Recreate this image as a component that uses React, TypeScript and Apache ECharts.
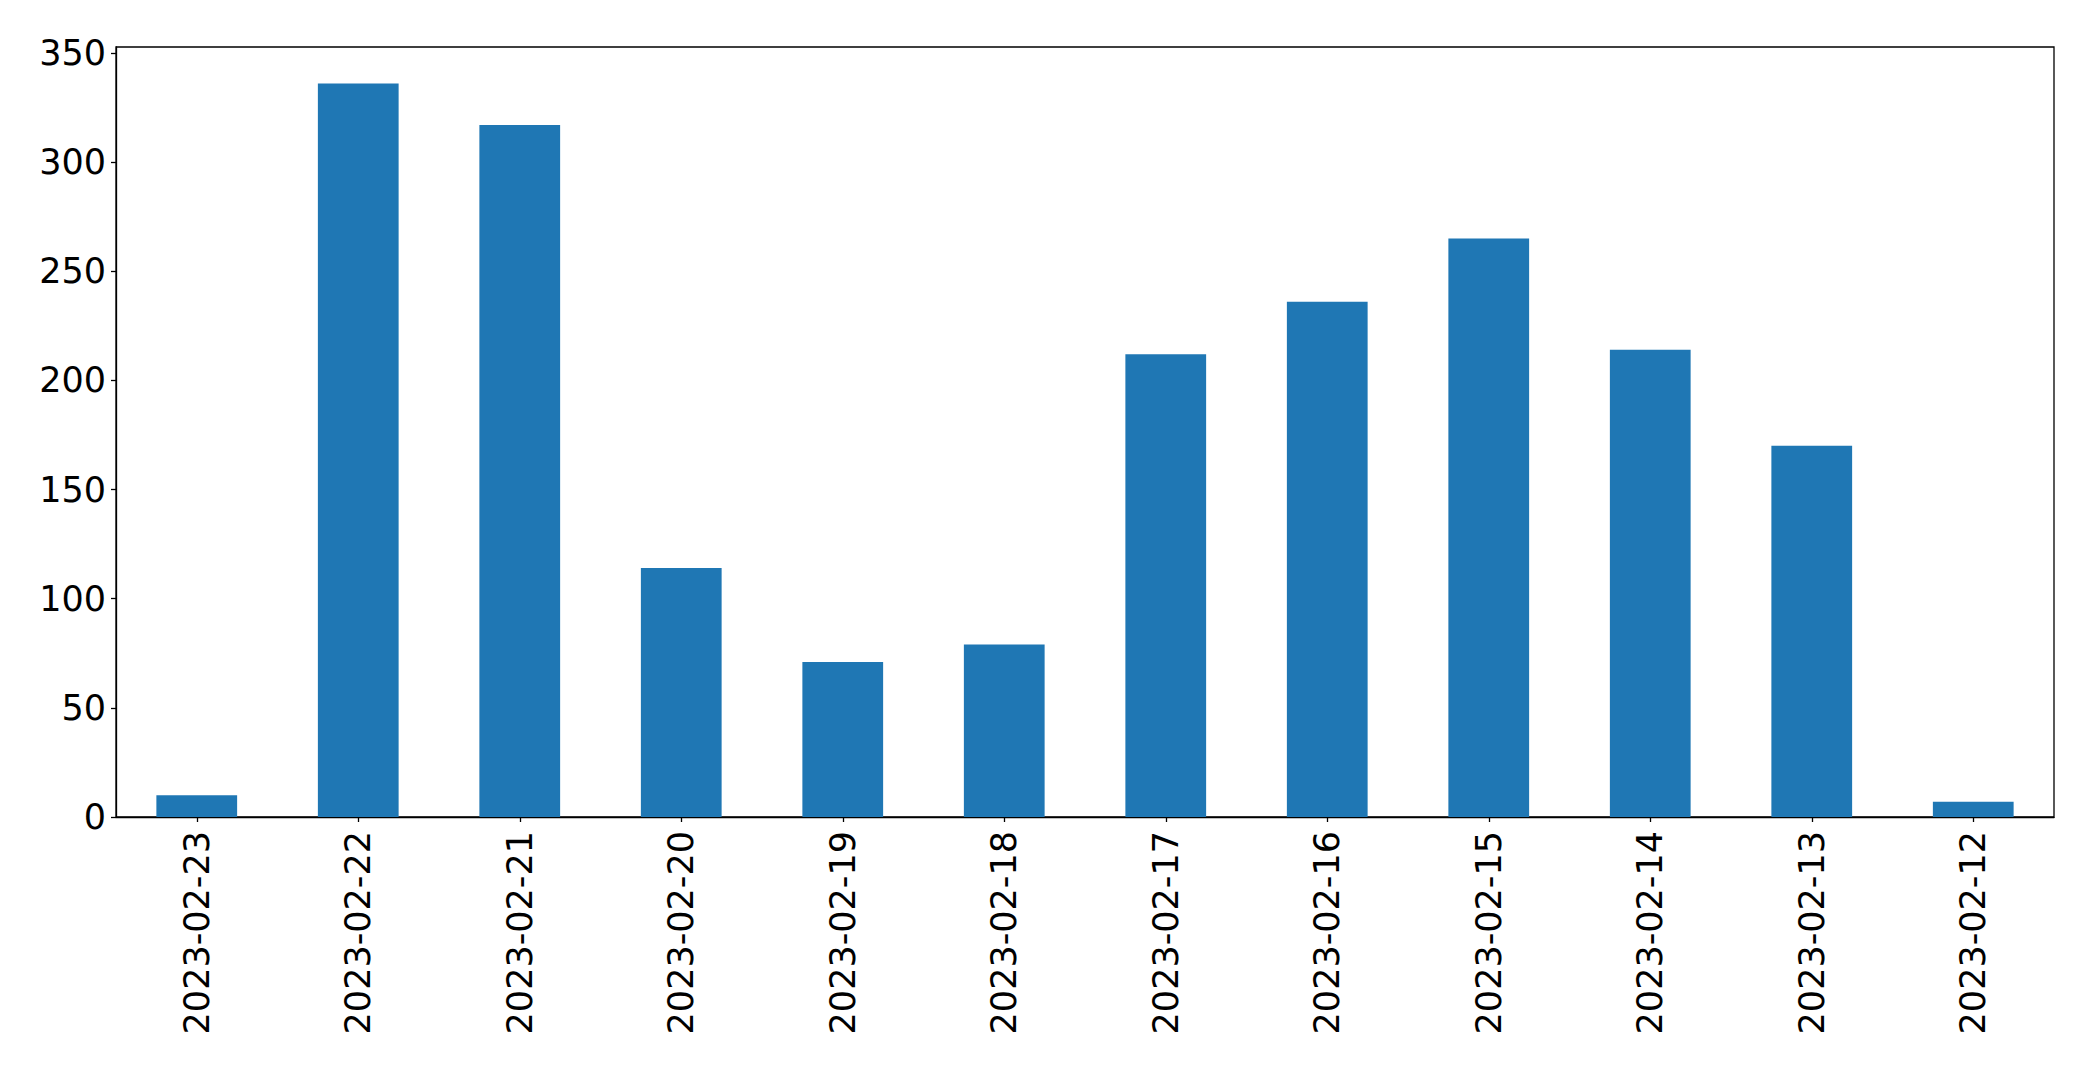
import React, { useEffect, useRef } from "react";
import * as echarts from "echarts";

const categories = [
  "2023-02-23", "2023-02-22", "2023-02-21", "2023-02-20", "2023-02-19", "2023-02-18",
  "2023-02-17", "2023-02-16", "2023-02-15", "2023-02-14", "2023-02-13", "2023-02-12",
];
const values = [10, 336, 317, 114, 71, 79, 212, 236, 265, 214, 170, 7];
const yTicks = { min: 0, max: 352.7, interval: 50 };

export default function App() {
  const ref = useRef<HTMLDivElement>(null);
  useEffect(() => {
    if (!ref.current) return;
    const chart = echarts.init(ref.current, undefined, { renderer: "svg" });
    const font = "DejaVu Sans";
    chart.setOption({
      animation: false,
      backgroundColor: "#fff",
      grid: {
        left: 116,
        right: 39,
        top: 47,
        bottom: 252,
        show: true,
        borderColor: "#000",
        borderWidth: 1.3,
        backgroundColor: "transparent",
      },
      xAxis: {
        type: "category",
        data: categories,
        axisLine: { show: true, lineStyle: { color: "#000", width: 1.3 } },
        axisTick: { show: true, alignWithLabel: true, length: 5, lineStyle: { color: "#000", width: 1.3 } },
        axisLabel: {
          rotate: 90,
          fontSize: 35,
          fontFamily: font,
          color: "#000",
          margin: 14,
          interval: 0,
        },
        splitLine: { show: false },
      },
      yAxis: {
        type: "value",
        min: yTicks.min,
        max: yTicks.max,
        interval: yTicks.interval,
        axisLine: { show: true, lineStyle: { color: "#000", width: 1.3 } },
        axisTick: { show: true, length: 5, lineStyle: { color: "#000", width: 1.3 } },
        axisLabel: {
          fontSize: 35,
          fontFamily: font,
          color: "#000",
          margin: 10,
          showMaxLabel: false,
          formatter: (v: number) => (v % 50 === 0 ? String(v) : ""),
        },
        splitLine: { show: false },
      },
      series: [
        {
          type: "bar",
          data: values,
          barWidth: "50%",
          itemStyle: { color: "#1f77b4" },
        },
      ],
    });
    return () => chart.dispose();
  }, []);
  return (
    <div
      ref={ref}
      style={{ position: "fixed", left: 0, top: 0, width: 2093, height: 1069, background: "#fff" }}
    />
  );
}
